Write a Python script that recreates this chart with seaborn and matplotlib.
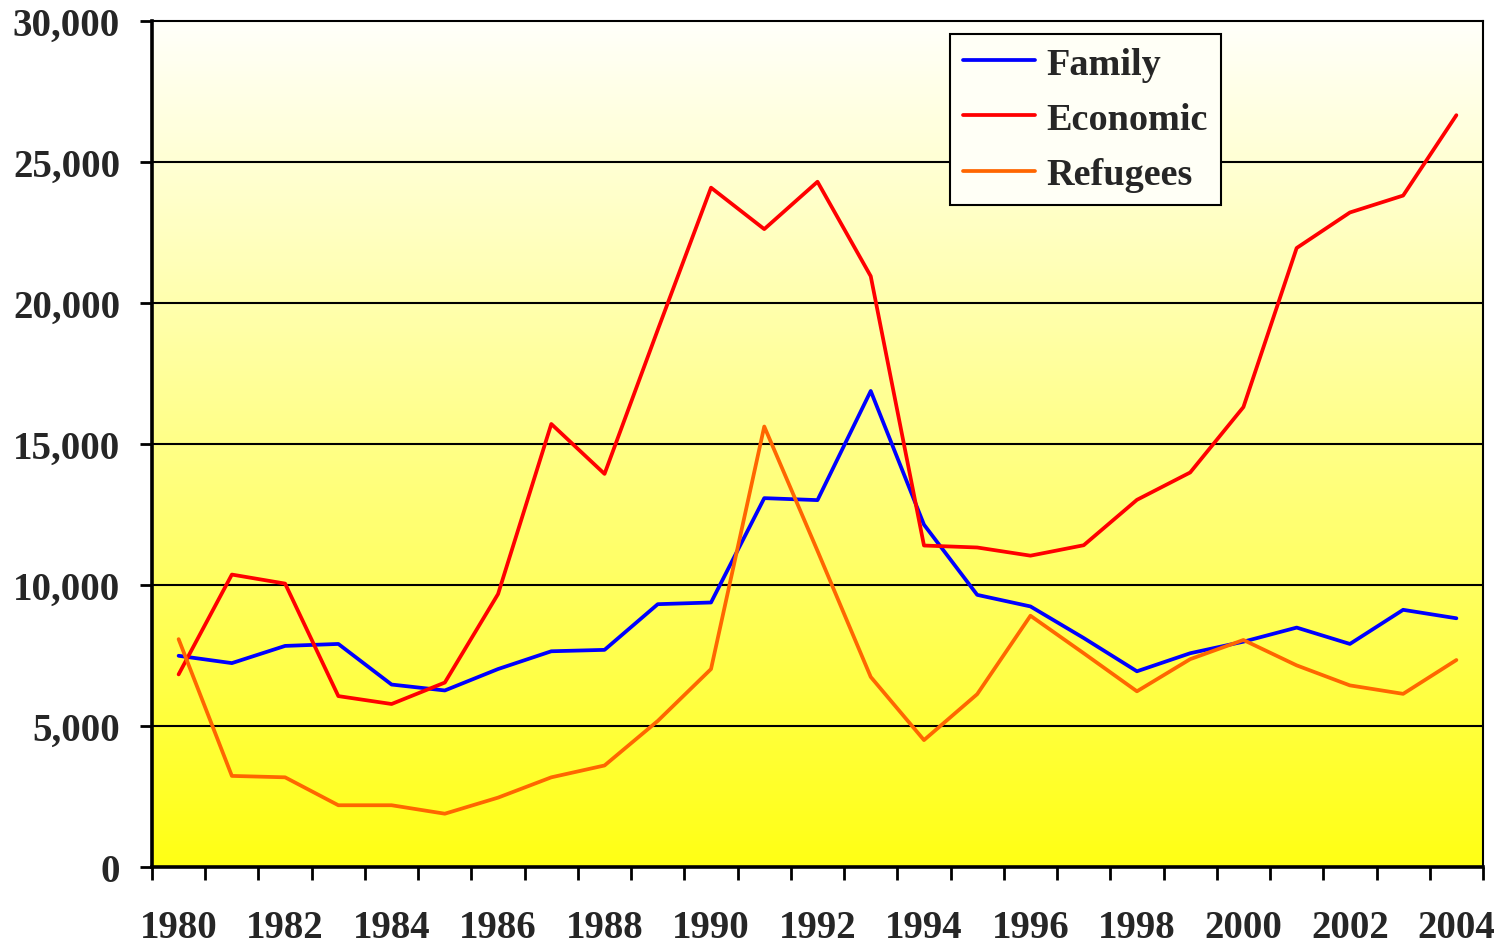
import numpy as np
import pandas as pd
import matplotlib
matplotlib.use("Agg")
import matplotlib.pyplot as plt
import seaborn as sns
from matplotlib.ticker import FuncFormatter, FixedLocator

years = list(range(1980, 2005))
family = [7490, 7230, 7840, 7910, 6470, 6260, 7020, 7650, 7700, 9320, 9380,
          13080, 13010, 16880, 12140, 9650, 9240, 8120, 6940, 7580, 7990,
          8490, 7910, 9120, 8820]
economic = [6830, 10370, 10050, 6060, 5780, 6540, 9680, 15710, 13940, 19050, 24090,
            22620, 24300, 20950, 11400, 11330, 11040, 11410, 13020, 13990, 16310,
            21950, 23210, 23810, 26660]
refugees = [8080, 3230, 3180, 2190, 2190, 1890, 2460, 3180, 3600, 5180, 7020,
            15620, 11210, 6740, 4500, 6130, 8910, 7580, 6230, 7370, 8050,
            7150, 6440, 6140, 7340]
series_names = ["Family", "Economic", "Refugees"]
series_colors = ["#0000FF", "#FF0000", "#FF6600"]
y_ticks = [0, 5000, 10000, 15000, 20000, 25000, 30000]
x_label_years = list(range(1980, 2005, 2))

df = pd.DataFrame({"Year": years * 3,
                   "Value": family + economic + refugees,
                   "Series": sum([[n] * len(years) for n in series_names], [])})

sns.set_style("white")
plt.rcParams["font.family"] = ["Liberation Serif", "DejaVu Serif"]
plt.rcParams["font.weight"] = "bold"

fig = plt.figure(figsize=(15.05, 9.45), dpi=100)
ax = fig.add_axes([152 / 1505, 1 - 868 / 945, (1483 - 152) / 1505, (868 - 22) / 945])

# gradient background (pale top -> yellow bottom)
grad = np.linspace(0, 1, 256).reshape(-1, 1)
rgb = np.ones((256, 1, 3))
rgb[..., 2] = 0.98 - 0.9 * grad
ax.imshow(rgb, aspect="auto", extent=[1979.5, 2004.5, 0, 30000], origin="upper", zorder=0)

for yv in y_ticks[1:-1]:
    ax.axhline(yv, color="black", lw=1.5, zorder=1)

sns.lineplot(data=df, x="Year", y="Value", hue="Series", hue_order=series_names,
             palette=series_colors, linewidth=2.7, ax=ax, zorder=3, legend=True)

ax.set_xlim(1979.5, 2004.5)
ax.set_ylim(0, 30000)
ax.set_xlabel("")
ax.set_ylabel("")

ax.yaxis.set_major_locator(FixedLocator(y_ticks))
ax.yaxis.set_major_formatter(FuncFormatter(lambda v, p: f"{int(v):,}"))
ax.xaxis.set_major_locator(FixedLocator(x_label_years))
ax.xaxis.set_minor_locator(FixedLocator([y - 0.5 for y in years] + [2004.5]))

ax.tick_params(axis="y", which="major", direction="out", length=9, width=2, color="black",
               pad=14, labelsize=28, left=True)
ax.tick_params(axis="x", which="major", length=0, pad=30, labelsize=28, bottom=True)
ax.tick_params(axis="x", which="minor", direction="out", length=9, width=2, color="black", bottom=True)
for lab in ax.get_xticklabels() + ax.get_yticklabels():
    lab.set_fontweight("bold")

for side in ["left", "bottom"]:
    ax.spines[side].set_linewidth(2.6)
    ax.spines[side].set_color("black")
for side in ["top", "right"]:
    ax.spines[side].set_linewidth(1.5)
    ax.spines[side].set_color("black")
    ax.spines[side].set_visible(True)

handles, labels = ax.get_legend_handles_labels()
leg = ax.legend(handles, labels, loc="upper left", bbox_to_anchor=((950 - 152) / 1331, 1 - (35 - 22) / 846),
                frameon=True, fancybox=False, edgecolor="black", facecolor="#FFFFF6", framealpha=1,
                prop={"family": "Liberation Serif", "weight": "bold", "size": 27.5},
                handlelength=1.9, handletextpad=0.3, borderpad=0.33, labelspacing=0.53,
                borderaxespad=0)
leg.get_frame().set_linewidth(1.5)
for line in leg.get_lines():
    line.set_linewidth(2.7)

fig.savefig("out.png", dpi=100)
